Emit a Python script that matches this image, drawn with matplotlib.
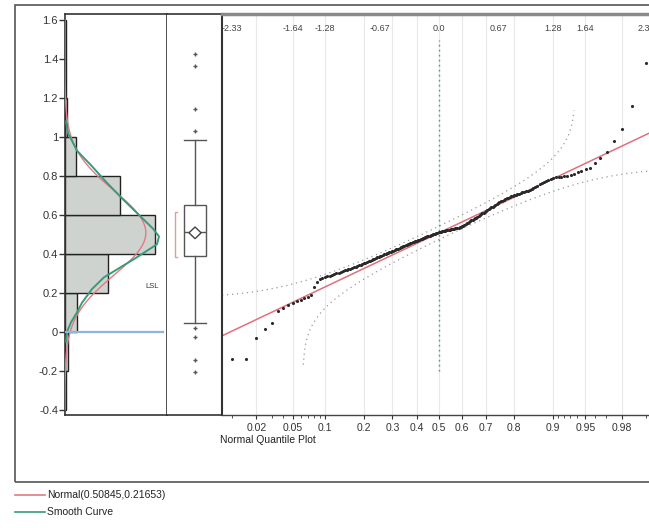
import numpy as np
import matplotlib
matplotlib.use("Agg")
import matplotlib.pyplot as plt
from matplotlib.patches import Rectangle
from matplotlib.lines import Line2D
from statistics import NormalDist

plt.rcParams['font.family'] = ['Liberation Sans', 'DejaVu Sans']

# ---------------- data ----------------
values = [
    -0.205, -0.14, -0.14, -0.03, 0.015, 0.046, 0.11, 0.125, 0.14, 0.15,
    0.158, 0.165, 0.172, 0.18, 0.19, 0.23, 0.255, 0.27, 0.277, 0.282,
    0.285, 0.289, 0.293, 0.297, 0.30, 0.304, 0.308, 0.312, 0.316, 0.319,
    0.322, 0.325, 0.329, 0.332, 0.335, 0.339, 0.342, 0.346, 0.349, 0.352,
    0.356, 0.359, 0.362, 0.366, 0.369, 0.372, 0.376, 0.379, 0.383, 0.386,
    0.389, 0.392, 0.395, 0.398, 0.401, 0.404, 0.406, 0.409, 0.412, 0.415,
    0.417, 0.42, 0.423, 0.426, 0.428, 0.431, 0.434, 0.437, 0.439, 0.442,
    0.445, 0.448, 0.45, 0.453, 0.456, 0.458, 0.46, 0.463, 0.465, 0.467,
    0.469, 0.472, 0.474, 0.476, 0.478, 0.481, 0.483, 0.485, 0.487, 0.49,
    0.492, 0.494, 0.496, 0.499, 0.501, 0.503, 0.505, 0.508, 0.51, 0.512,
    0.514, 0.515, 0.516, 0.518, 0.519, 0.52, 0.521, 0.523, 0.524, 0.525,
    0.526, 0.528, 0.529, 0.53, 0.531, 0.533, 0.534, 0.535, 0.536, 0.538,
    0.542, 0.546, 0.549, 0.553, 0.557, 0.561, 0.565, 0.568, 0.572, 0.576,
    0.58, 0.584, 0.587, 0.591, 0.595, 0.599, 0.603, 0.608, 0.612, 0.617,
    0.621, 0.625, 0.63, 0.634, 0.639, 0.643, 0.648, 0.652, 0.656, 0.661,
    0.665, 0.67, 0.674, 0.678, 0.683, 0.686, 0.689, 0.692, 0.695, 0.698,
    0.701, 0.704, 0.707, 0.71, 0.713, 0.716, 0.719, 0.722, 0.724, 0.727,
    0.733, 0.739, 0.745, 0.751, 0.757, 0.763, 0.769, 0.775, 0.781, 0.786,
    0.79, 0.793, 0.795, 0.797, 0.798, 0.799, 0.805, 0.81, 0.818, 0.826,
    0.834, 0.842, 0.867, 0.89, 0.925, 0.98, 1.04, 1.16, 1.38, 1.43,
]
bin_edges = [-0.4, -0.2, 0.0, 0.2, 0.4, 0.6, 0.8, 1.0, 1.2, 1.4, 1.6]
fit_mean = 0.50845
fit_sd = 0.21653

smooth_vals = [1.08, 1.02, 0.98, 0.93, 0.85, 0.77, 0.68, 0.6, 0.53, 0.49, 0.45,
               0.42, 0.38, 0.33, 0.28, 0.22, 0.15, 0.1, 0.05, 0.0, -0.05]
smooth_counts = [0.9, 2.7, 6.4, 10.9, 24.6, 37.4, 52.9, 67.5, 80.2, 85.7, 83.9,
                 75.7, 64.7, 50.1, 35.5, 24.6, 15.5, 10.9, 5.5, 1.8, 0.9]

box_stats = dict(med=0.513, q1=0.39, q3=0.651, whislo=0.046, whishi=0.985,
                 fliers=[1.426, 1.364, 1.144, 1.03, 0.02, -0.026, -0.144, -0.205])
shortest_half = (0.385, 0.615)
lsl_value = 0.0

y_ticks = [1.6, 1.4, 1.2, 1.0, 0.8, 0.6, 0.4, 0.2, 0.0, -0.2, -0.4]
y_labels = ["1.6", "1.4", "1.2", "1", "0.8", "0.6", "0.4", "0.2", "0", "-0.2", "-0.4"]
prob_ticks = [0.02, 0.05, 0.1, 0.2, 0.3, 0.4, 0.5, 0.6, 0.7, 0.8, 0.9, 0.95, 0.98]
prob_labels = ["0.02", "0.05", "0.1", "0.2", "0.3", "0.4", "0.5", "0.6", "0.7", "0.8", "0.9", "0.95", "0.98"]
prob_minor = [0.01, 0.03, 0.04, 0.06, 0.07, 0.08, 0.09, 0.91, 0.92, 0.93, 0.94, 0.96, 0.97, 0.99]
top_q = [-2.33, -1.64, -1.28, -0.67, 0.0, 0.67, 1.28, 1.64, 2.33]
top_labels = ["-2.33", "-1.64", "-1.28", "-0.67", "0.0", "0.67", "1.28", "1.64", "2.33"]

# ---------------- layout ----------------
W, H = 649, 528
fig = plt.figure(figsize=(W / 100, H / 100), dpi=100)
fig.patch.set_facecolor("white")

def rect(x0, y0, x1, y1):
    return [x0 / W, 1 - y1 / H, (x1 - x0) / W, (y1 - y0) / H]

ylim = (-0.426, 1.631)
ax_h = fig.add_axes(rect(65, 14, 167, 415))
ax_b = fig.add_axes(rect(167, 14, 222, 415))
ax_q = fig.add_axes(rect(222, 14, 649, 415))

# outer frame
fig.add_artist(Rectangle((15 / W, 1 - 482 / H), (700 - 15) / W, (482 - 5) / H,
                         transform=fig.transFigure, fill=False, ec="#555555",
                         lw=1.2, clip_on=False))

dark = "#333333"
nd = NormalDist()
n = len(values)

# ---------------- histogram ----------------
ax_h.hist(values, bins=bin_edges, orientation="horizontal", color="#cfd3cf",
          edgecolor="#222222", linewidth=1.0, zorder=2)
yy = np.linspace(-0.4, 1.6, 400)
bw = bin_edges[1] - bin_edges[0]
xx = [n * bw * nd.pdf((v - fit_mean) / fit_sd) / fit_sd for v in yy]
ax_h.plot(xx, yy, color="#e07a85", lw=1.0, zorder=3)
ax_h.plot(smooth_counts, smooth_vals, color="#3a9a7a", lw=1.4, zorder=4)
ax_h.plot([0, 89], [lsl_value, lsl_value], color="#8db6d9", lw=1.6, zorder=5)
ax_h.text(79, 0.235, "LSL", fontsize=5.5, ha="center", va="center", color=dark)
ax_h.set_xlim(0, 93)
ax_h.set_ylim(ylim)
ax_h.set_xticks([])
ax_h.set_yticks(y_ticks)
ax_h.set_yticklabels(y_labels)
ax_h.tick_params(axis="y", length=4, width=1, colors=dark, labelsize=8, pad=1)
for s in ax_h.spines.values():
    s.set_color(dark)
    s.set_linewidth(1.2)

# ---------------- box plot ----------------
c = 0.51
ax_b.bxp([box_stats], positions=[c], widths=0.4, capwidths=0.4, showfliers=True,
         patch_artist=True,
         boxprops=dict(facecolor="white", edgecolor="#555555", lw=1),
         medianprops=dict(color="#555555", lw=1),
         whiskerprops=dict(color="#555555", lw=1),
         capprops=dict(color="#555555", lw=1),
         flierprops=dict(marker="+", markersize=3, markeredgecolor="#555555", markeredgewidth=1))
dh = 0.03
ax_b.fill([c - 0.11, c, c + 0.11, c], [fit_mean, fit_mean + dh, fit_mean, fit_mean - dh],
          facecolor="white", edgecolor="#444444", lw=1, zorder=4)
ax_b.plot([0.185, 0.145, 0.145, 0.185],
          [shortest_half[0], shortest_half[0], shortest_half[1], shortest_half[1]],
          color="#e89a9a", lw=1)
ax_b.set_xlim(0, 1)
ax_b.set_ylim(ylim)
ax_b.set_xticks([])
ax_b.set_yticks([])
for k, s in ax_b.spines.items():
    s.set_color(dark)
    s.set_linewidth(1.2)
ax_b.spines["left"].set_visible(False)
ax_b.spines["right"].set_visible(False)

# ---------------- normal quantile plot ----------------
qlim = (-2.44, 2.36)
ax_q.set_xlim(qlim)
ax_q.set_ylim(ylim)
prob_q = [nd.inv_cdf(p) for p in prob_ticks]
for q in prob_q:
    ax_q.axvline(q, color="#e8e8e8", lw=0.8, zorder=0)

qs = [nd.inv_cdf(i / (n + 1)) for i in range(1, n + 1)]
ax_q.plot(list(qlim), [fit_mean + fit_sd * qlim[0], fit_mean + fit_sd * qlim[1]],
          color="#e0707d", lw=1.1, zorder=2)

D = 0.886 / np.sqrt(n)
qg = np.linspace(qlim[0], qlim[1], 400)
up_q, up_v, lo_q, lo_v = [], [], [], []
for q in qg:
    p = nd.cdf(q)
    if p + D < 0.9995:
        up_q.append(q)
        up_v.append(fit_mean + fit_sd * nd.inv_cdf(p + D))
    if p - D > 0.0005:
        lo_q.append(q)
        lo_v.append(fit_mean + fit_sd * nd.inv_cdf(p - D))
ax_q.plot(up_q, up_v, color="#9a9a9a", lw=0.9, ls=(0, (1, 3)), zorder=1)
ax_q.plot(lo_q, lo_v, color="#9a9a9a", lw=0.9, ls=(0, (1, 3)), zorder=1)

ax_q.plot([0, 0], [-0.2, 1.5], color="#3aa58a", lw=1.0, ls=(0, (1.2, 2.4)), zorder=1)
ax_q.scatter(qs, values, s=5, color="#2a2a2a", zorder=3, linewidths=0)

ax_q.set_yticks([])
ax_q.set_xticks(prob_q)
ax_q.set_xticklabels(prob_labels)
ax_q.set_xticks([nd.inv_cdf(p) for p in prob_minor], minor=True)
ax_q.tick_params(axis="x", which="major", length=3, colors=dark, labelsize=7.5, pad=3)
ax_q.tick_params(axis="x", which="minor", length=2, color=dark)
ax_q.spines["right"].set_visible(False)
ax_q.spines["left"].set_color(dark)
ax_q.spines["left"].set_linewidth(1.5)
ax_q.spines["bottom"].set_color("#444444")
ax_q.spines["bottom"].set_linewidth(1.0)
ax_q.spines["top"].set_color("#8a8a8a")
ax_q.spines["top"].set_linewidth(2.5)

sec = ax_q.secondary_xaxis("top")
sec.set_xticks(top_q)
sec.set_xticklabels(top_labels)
sec.tick_params(length=0, pad=-14, labelsize=6.5, colors="#444444")
sec.spines["top"].set_visible(False)

fig.text(220 / W, 1 - 440 / H, "Normal Quantile Plot", fontsize=7.5, color="#222222",
         ha="left", va="center")

# ---------------- legend ----------------
for y, col, lab in [(495, "#e07a85", "Normal(0.50845,0.21653)"), (512, "#3a9a7a", "Smooth Curve")]:
    fig.add_artist(Line2D([15 / W, 45 / W], [1 - y / H, 1 - y / H], transform=fig.transFigure,
                          color=col, lw=1.2))
    fig.text(47 / W, 1 - y / H, lab, fontsize=7.5, color="#222222", ha="left", va="center")

fig.savefig("out.png", dpi=100)
